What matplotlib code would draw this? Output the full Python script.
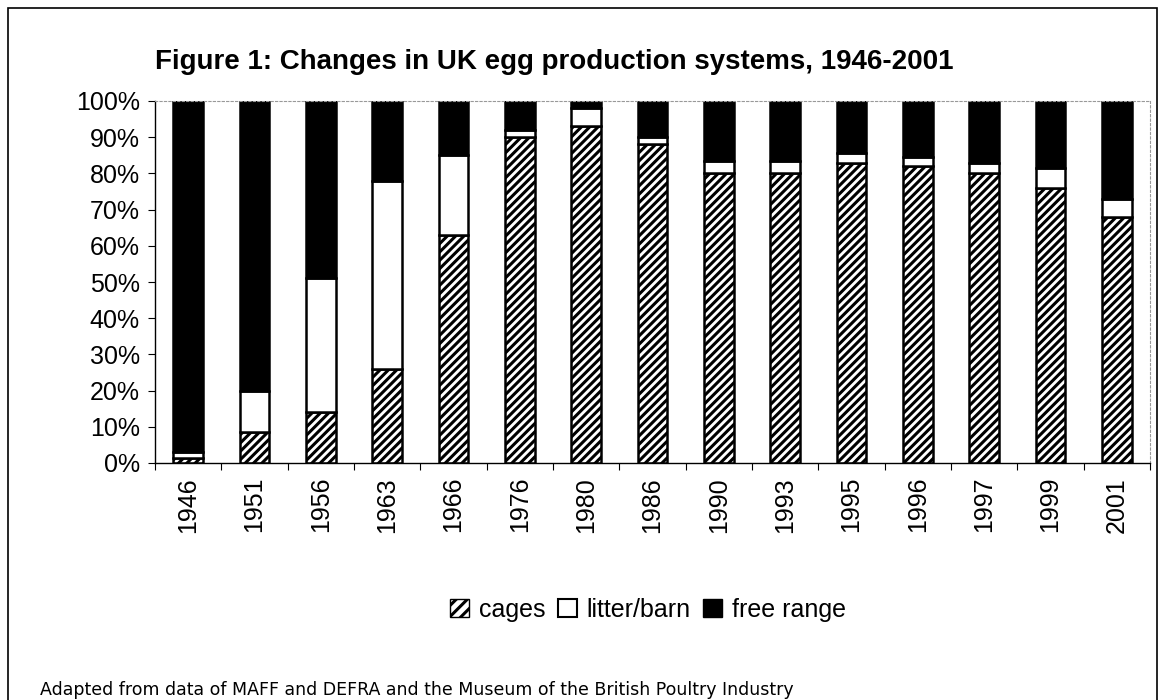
import matplotlib
matplotlib.use("Agg")
import matplotlib.pyplot as plt
import numpy as np
from matplotlib.patches import Rectangle, Patch
from matplotlib.ticker import FuncFormatter, FixedLocator

years = ["1946", "1951", "1956", "1963", "1966", "1976", "1980", "1986",
         "1990", "1993", "1995", "1996", "1997", "1999", "2001"]
cages = [1.5, 8.5, 14, 26, 63, 90, 93, 88, 80, 80, 83, 82, 80, 76, 68]
litter_barn = [1.5, 11.5, 37, 52, 22, 2, 5, 2, 3.5, 3.5, 2.5, 2.5, 3, 5.5, 5]
free_range = [97, 80, 49, 22, 15, 8, 2, 10, 16.5, 16.5, 14.5, 15.5, 17, 18.5, 27]

title = "Figure 1: Changes in UK egg production systems, 1946-2001"
source = "Adapted from data of MAFF and DEFRA and the Museum of the British Poultry Industry"

plt.rcParams['font.family'] = ['Liberation Sans', 'DejaVu Sans']
plt.rcParams['hatch.linewidth'] = 2.2

W, H = 1165, 700
fig = plt.figure(figsize=(W / 100, H / 100), dpi=100)
ax = fig.add_axes([155 / W, 1 - 463 / H, (1150 - 155) / W, (463 - 101) / H])

x = np.arange(len(years))
bw = 0.45
cg = np.array(cages)
lb = np.array(litter_barn)
fr = np.array(free_range)
ax.bar(x, cg, bw, color="white", edgecolor="black", hatch="////", linewidth=1.8)
ax.bar(x, lb, bw, bottom=cg, color="white", edgecolor="black", linewidth=1.8)
ax.bar(x, fr, bw, bottom=cg + lb, color="black", edgecolor="black", linewidth=1.8)

ax.set_xlim(-0.5, len(years) - 0.5)
ax.set_ylim(0, 100)
ax.set_yticks(np.arange(0, 101, 10))
ax.yaxis.set_major_formatter(FuncFormatter(lambda v, p: f"{int(v)}%"))
ax.set_xticks(x)
ax.set_xticklabels(years, rotation=90, fontsize=18)
ax.tick_params(axis="x", length=0, pad=10)
ax.xaxis.set_minor_locator(FixedLocator(np.arange(-0.5, len(years), 1)))
ax.tick_params(axis="x", which="minor", length=5, width=0.8)
ax.tick_params(axis="y", labelsize=18, length=5, width=0.8, pad=6)

for s in ["top", "right"]:
    ax.spines[s].set_linestyle((0, (2, 2)))
    ax.spines[s].set_color("#999999")
    ax.spines[s].set_linewidth(0.8)
ax.spines["left"].set_linewidth(1.0)
ax.spines["bottom"].set_linewidth(1.0)

fig.text(554 / W, 1 - 62 / H, title, ha="center", va="center",
         fontsize=20, fontweight="bold")

handles = [Patch(facecolor="white", edgecolor="black", hatch="///", label="cages"),
           Patch(facecolor="white", edgecolor="black", linewidth=1.5, label="litter/barn"),
           Patch(facecolor="black", edgecolor="black", label="free range")]
fig.legend(handles=handles, loc="center", bbox_to_anchor=(648 / W, 1 - 610 / H), ncol=3,
           frameon=False, fontsize=18, handlelength=0.75, handleheight=0.75,
           handletextpad=0.4, columnspacing=0.5)

fig.text(40 / W, 1 - 690 / H, source, ha="left", va="center", fontsize=12.5,
         family=['DejaVu Sans'])

border = Rectangle((8 / W, -0.05), (1157 - 8) / W, 1 - 8 / H + 0.05, transform=fig.transFigure,
                   fill=False, edgecolor="black", linewidth=1.2)
fig.patches.append(border)

fig.savefig("out.png", dpi=100)
